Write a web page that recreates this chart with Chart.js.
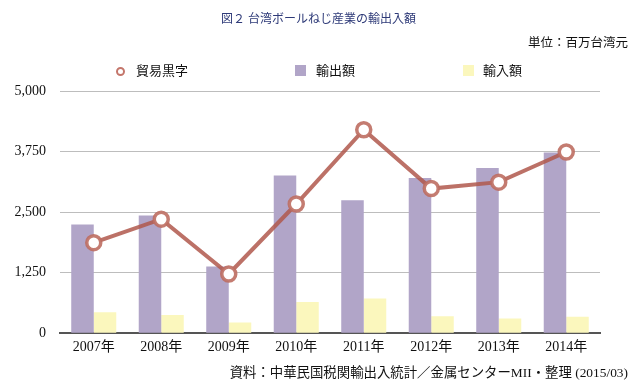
<!DOCTYPE html>
<html>
<head>
<meta charset="utf-8">
<script src="https://cdn.jsdelivr.net/npm/chart.js@4"></script>
<style>
  body { margin: 0; background: #fff; }
  #wrap { position: relative; width: 637px; height: 389px; font-family: "Liberation Serif", "Noto Sans CJK JP", serif; }
  #chartBox { position: absolute; left: 0; top: 0; width: 637px; height: 389px; }
  .txt { position: absolute; white-space: nowrap; line-height: 1; }
  #title { left: 0; width: 637px; top: 13px; text-align: center; font-size: 12px; color: #2e3a78; }
  #unit { right: 9px; top: 37px; font-size: 12.5px; color: #111; }
  #source { right: 9px; top: 366px; font-size: 13.4px; color: #111; }
  .leg { position: absolute; top: 64px; font-size: 13px; color: #111; }
  .ring { position: absolute; left: 116px; top: 67px; width: 5px; height: 5px; border: 2px solid #c4766b; border-radius: 50%; background: #fff; }
  .sq { position: absolute; top: 65px; width: 11px; height: 11px; }
</style>
</head>
<body>
<div id="wrap">
  <div id="chartBox"><canvas id="tradeChart"></canvas></div>
  <div class="txt" id="title">図２ 台湾ボールねじ産業の輸出入額</div>
  <div class="txt" id="unit">単位：百万台湾元</div>
  <div class="ring"></div>
  <div class="txt leg" style="left:136px">貿易黒字</div>
  <div class="sq" style="left:295px;background:#b1a5c8"></div>
  <div class="txt leg" style="left:316px">輸出額</div>
  <div class="sq" style="left:463px;background:#fbf7bd"></div>
  <div class="txt leg" style="left:483px">輸入額</div>
  <div class="txt" id="source">資料：中華民国税関輸出入統計／金属センターMII・整理 (2015/03)</div>
</div>
<script>
// DATA
const years = ["2007年", "2008年", "2009年", "2010年", "2011年", "2012年", "2013年", "2014年"];
const surplus = [1869, 2354, 1223, 2667, 4200, 2986, 3118, 3740];
const exports = [2244, 2431, 1375, 3258, 2743, 3202, 3410, 3729];
const imports = [431, 375, 223, 646, 716, 348, 306, 341];
const yTicks = [0, 1250, 2500, 3750, 5000];

const axisFont = { family: "'Liberation Serif', 'Noto Sans CJK JP', serif", size: 14 };

new Chart(document.getElementById("tradeChart"), {
  type: "bar",
  data: {
    labels: years,
    datasets: [
      {
        type: "line",
        label: "貿易黒字",
        data: surplus,
        borderColor: "rgba(176, 88, 76, 0.85)",
        borderWidth: 4,
        tension: 0,
        pointRadius: 7,
        pointHoverRadius: 7,
        pointBorderWidth: 3.5,
        pointBorderColor: "rgba(190, 110, 98, 0.9)",
        pointBackgroundColor: "#ffffff",
        order: 0
      },
      {
        label: "輸出額",
        data: exports,
        backgroundColor: "#b1a5c8",
        categoryPercentage: 0.667,
        barPercentage: 1.0,
        order: 1
      },
      {
        label: "輸入額",
        data: imports,
        backgroundColor: "#fbf7bd",
        categoryPercentage: 0.667,
        barPercentage: 1.0,
        order: 2
      }
    ]
  },
  options: {
    responsive: true,
    maintainAspectRatio: false,
    animation: false,
    layout: {
      padding: { top: 91, bottom: 27, left: 15, right: 37 }
    },
    plugins: {
      legend: { display: false },
      title: { display: false },
      tooltip: { enabled: false }
    },
    scales: {
      x: {
        grid: { display: false, drawTicks: false },
        border: { color: "#555555", width: 2 },
        ticks: { color: "#111", font: axisFont, padding: 6 }
      },
      y: {
        min: 0,
        max: 5000,
        afterBuildTicks: (axis) => {
          axis.ticks = yTicks.map(v => ({ value: v }));
        },
        afterFit: (axis) => { axis.width = 45; },
        grid: { color: "#bdbdbd", lineWidth: 1, drawTicks: false },
        border: { display: false },
        ticks: {
          color: "#111",
          font: axisFont,
          padding: 14,
          callback: (v) => v.toLocaleString("en-US")
        }
      }
    }
  }
});
</script>
</body>
</html>
